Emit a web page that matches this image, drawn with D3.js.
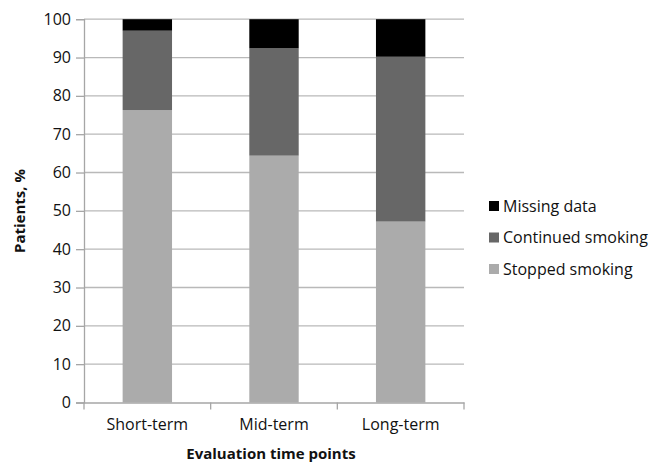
<!DOCTYPE html>
<html><head><meta charset="utf-8">
<script src="https://d3js.org/d3.v7.min.js"></script>
<style>body{margin:0;background:#fff}svg{display:block}text{font-family:"Open Sans",sans-serif}</style>
</head><body>
<svg id="c" width="650" height="466"></svg>
<script>
const categories = ["Short-term", "Mid-term", "Long-term"];
const stopped = [76.3, 64.4, 47.2];
const continued = [20.7, 28.0, 43.0];
const missing = [3.0, 7.6, 9.8];
const yTicks = [0,10,20,30,40,50,60,70,80,90,100];
const seriesNames = ["Stopped smoking", "Continued smoking", "Missing data"];
const seriesColors = ["#ababab", "#676767", "#000000"];

const svg = d3.select("#c");
const m = {l:84, r:464, t:19.2, b:402.5};
const x = d3.scaleBand().domain(categories).range([m.l, m.r]).paddingInner(0.61).paddingOuter(0.305);
const y = d3.scaleLinear().domain([0,100]).range([m.b, m.t]);

const rows = categories.map((c,i)=>({cat:c, s0:stopped[i], s1:continued[i], s2:missing[i]}));
const stack = d3.stack().keys(["s0","s1","s2"])(rows);

// gridlines
svg.append("g").selectAll("line").data(yTicks.filter(d=>d>0)).join("line")
  .attr("x1", m.l).attr("x2", m.r).attr("y1", d=>y(d)).attr("y2", d=>y(d))
  .attr("stroke", "#b9b9b9").attr("stroke-width", 1.3);

// bars
svg.append("g").selectAll("g").data(stack).join("g")
  .attr("fill", (d,i)=>seriesColors[i])
  .selectAll("rect").data(d=>d).join("rect")
  .attr("x", d=>x(d.data.cat)).attr("width", x.bandwidth())
  .attr("y", d=>y(d[1])).attr("height", d=>y(d[0])-y(d[1]));

// y axis
const ya = svg.append("g").attr("transform", `translate(${m.l},0)`)
  .call(d3.axisLeft(y).tickValues(yTicks).tickSize(8).tickPadding(5));
ya.select(".domain").attr("stroke", "#a6a6a6").attr("stroke-width", 1.3);
ya.selectAll(".tick line").attr("stroke", "#a6a6a6").attr("stroke-width", 1.3);
ya.selectAll("text").attr("font-size", 16).attr("fill", "#111").style("font-family", '"Open Sans",sans-serif');

// x axis
const xa = svg.append("g").attr("transform", `translate(0,${m.b})`)
  .call(d3.axisBottom(x).tickSize(0).tickPadding(16));
xa.select(".domain").attr("stroke", "#a6a6a6").attr("stroke-width", 1.3);
xa.selectAll("text").attr("font-size", 16).attr("fill", "#111").style("font-family", '"Open Sans",sans-serif');
// category boundary ticks
const bounds = [m.l].concat(categories.map(c=>x(c)+x.bandwidth()+x.step()*x.paddingInner()/2));
svg.append("g").selectAll("line").data(bounds).join("line")
  .attr("x1", d=>d).attr("x2", d=>d).attr("y1", m.b).attr("y2", m.b+7)
  .attr("stroke", "#a6a6a6").attr("stroke-width", 1.3);

// axis titles
svg.append("text").attr("x", 271).attr("y", 459).attr("text-anchor", "middle")
  .attr("font-size", 15).attr("font-weight", "bold").attr("fill", "#111").text("Evaluation time points");
svg.append("text").attr("transform", "translate(25,211) rotate(-90)").attr("text-anchor", "middle")
  .attr("font-size", 15).attr("font-weight", "bold").attr("fill", "#111").text("Patients, %");

// legend
const legOrder = [2,1,0];
const lg = svg.append("g").selectAll("g").data(legOrder).join("g")
  .attr("transform", (d,i)=>`translate(489,${206 + i*31.5})`);
lg.append("rect").attr("x",0).attr("y",-5).attr("width",10).attr("height",10).attr("fill", d=>seriesColors[d]);
lg.append("text").attr("x", 14).attr("y", 0).attr("dy", "0.35em").attr("font-size", 16).attr("fill", "#111")
  .text(d=>seriesNames[d]);
</script>
</body></html>
